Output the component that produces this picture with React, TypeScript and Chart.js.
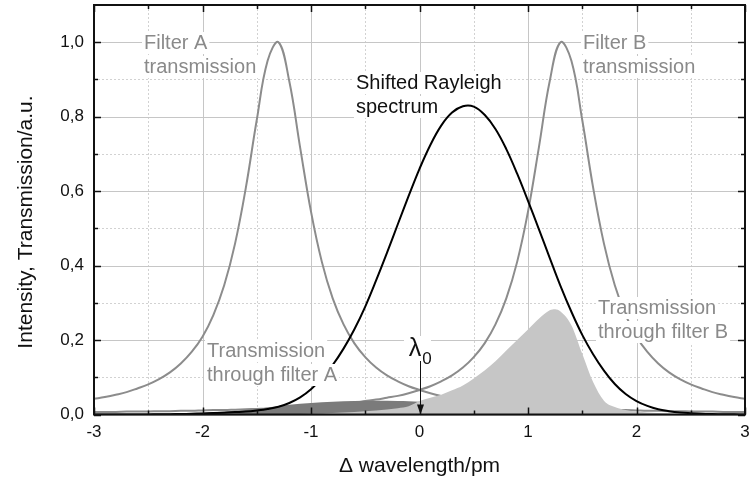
import React, { useEffect, useRef } from "react";
import { Chart, registerables } from "chart.js";

Chart.register(...registerables);

// ---------- data ----------
const xGrid = [
  -3.0, -2.9, -2.8, -2.7, -2.6, -2.5, -2.4, -2.3, -2.2, -2.1,
  -2.0, -1.9, -1.8, -1.7, -1.6, -1.5, -1.4, -1.3, -1.2, -1.1,
  -1.0, -0.9, -0.8, -0.7, -0.6, -0.5, -0.4, -0.3, -0.2, -0.1,
  0.0,
  0.1, 0.2, 0.3, 0.4, 0.5, 0.6, 0.7, 0.8, 0.9, 1.0,
  1.1, 1.2, 1.3, 1.4, 1.5, 1.6, 1.7, 1.8, 1.9, 2.0,
  2.1, 2.2, 2.3, 2.4, 2.5, 2.6, 2.7, 2.8, 2.9, 3.0,
];

const filterA = [
  0.042, 0.047, 0.053, 0.060, 0.070, 0.081, 0.095, 0.113, 0.137, 0.168,
  0.209, 0.267, 0.347, 0.459, 0.610, 0.791, 0.950, 1.0, 0.895, 0.717,
  0.545, 0.410, 0.312, 0.242, 0.191, 0.154, 0.126, 0.105, 0.089, 0.076,
  0.066,
  0.057, 0.050, 0.045, 0.040, 0.036, 0.032, 0.029, 0.027, 0.024, 0.022,
  0.021, 0.019, 0.018, 0.016, 0.015, 0.014, 0.013, 0.012, 0.012, 0.011,
  0.010, 0.010, 0.009, 0.009, 0.008, 0.008, 0.008, 0.007, 0.007, 0.007,
];

const filterB = [
  0.007, 0.007, 0.007, 0.008, 0.008, 0.008, 0.009, 0.009, 0.010, 0.010,
  0.011, 0.012, 0.012, 0.013, 0.014, 0.015, 0.016, 0.018, 0.019, 0.021,
  0.022, 0.024, 0.027, 0.029, 0.032, 0.036, 0.040, 0.045, 0.050, 0.057,
  0.066,
  0.076, 0.089, 0.105, 0.126, 0.154, 0.191, 0.242, 0.312, 0.410, 0.545,
  0.717, 0.895, 1.0, 0.950, 0.791, 0.610, 0.459, 0.347, 0.267, 0.209,
  0.168, 0.137, 0.113, 0.095, 0.081, 0.070, 0.060, 0.053, 0.047, 0.042,
];

const rayleigh = [
  0, 0, 0, 0.0001, 0.0002, 0.0003, 0.0005, 0.0008, 0.0013, 0.002,
  0.003, 0.004, 0.005, 0.0065, 0.008, 0.011, 0.015, 0.021, 0.031, 0.046,
  0.068, 0.097, 0.133, 0.177, 0.229, 0.290, 0.360, 0.434, 0.511, 0.587,
  0.660,
  0.724, 0.776, 0.811, 0.828, 0.827, 0.805, 0.767, 0.713, 0.647, 0.574,
  0.498, 0.421, 0.345, 0.276, 0.214, 0.162, 0.118, 0.082, 0.055, 0.036,
  0.023, 0.014, 0.009, 0.0055, 0.0035, 0.002, 0.0012, 0.0007, 0.0004, 0.0002,
];

const throughAX = [-2.6, -2.4, -2.2, -2.0, -1.8, -1.6, -1.4, -1.2, -1.0, -0.8, -0.6, -0.4, -0.2, 0.0, 0.1, 0.2];
const throughAY = [0.0, 0.001, 0.003, 0.005, 0.008, 0.012, 0.019, 0.026, 0.031, 0.034, 0.036, 0.037, 0.036, 0.034, 0.03, 0.02];

const throughBX = [
  -1.2, -1.0, -0.8, -0.6, -0.4, -0.2, -0.1, 0.0, 0.1, 0.2, 0.3, 0.4, 0.5, 0.6, 0.7, 0.8, 0.9, 1.0,
  1.1, 1.2, 1.25, 1.3, 1.4, 1.5, 1.6, 1.7, 1.8, 1.9, 2.0, 2.2, 2.5, 2.8,
];
const throughBY = [
  0.0, 0.002, 0.004, 0.007, 0.011, 0.017, 0.022, 0.036, 0.045, 0.053, 0.065, 0.078, 0.097, 0.118, 0.143, 0.172, 0.2, 0.228,
  0.257, 0.28, 0.283, 0.277, 0.24, 0.163, 0.087, 0.037, 0.02, 0.012, 0.008, 0.004, 0.001, 0.0,
];

const xTicks = [-3, -2, -1, 0, 1, 2, 3];
const yTicks = [0, 0.2, 0.4, 0.6, 0.8, 1.0];
const xMinor = [-2.5, -1.5, -0.5, 0.5, 1.5, 2.5];
const yMinor = [0.1, 0.3, 0.5, 0.7, 0.9];

const xTitle = "\u0394 wavelength/pm";
const yTitle = "Intensity, Transmission/a.u.";

const FONT = '"Liberation Sans", Arial, sans-serif';
const GREY_TEXT = "#8a8a8a";

const annotations = [
  { lines: ["Filter A", "transmission"], x: 144, y: 43, color: GREY_TEXT },
  { lines: ["Filter B", "transmission"], x: 583, y: 43, color: GREY_TEXT },
  { lines: ["Shifted Rayleigh", "spectrum"], x: 356, y: 83, color: "#111" },
  { lines: ["Transmission", "through filter A"], x: 207, y: 351, color: GREY_TEXT },
  { lines: ["Transmission", "through filter B"], x: 598, y: 308, color: GREY_TEXT },
];

const toPts = (xs: number[], ys: number[]) => xs.map((x, i) => ({ x, y: ys[i] }));

const decor = {
  id: "decor",
  beforeDatasetsDraw(chart: any) {
    const { ctx, chartArea: a, scales } = chart;
    const x = scales.x, y = scales.y;
    ctx.save();
    ctx.lineWidth = 1;
    ctx.setLineDash([2, 2]);
    ctx.strokeStyle = "#d2d2d2";
    for (const v of xMinor) {
      const px = Math.round(x.getPixelForValue(v)) + 0.5;
      ctx.beginPath(); ctx.moveTo(px, a.top); ctx.lineTo(px, a.bottom); ctx.stroke();
    }
    for (const v of yMinor) {
      const py = Math.round(y.getPixelForValue(v)) + 0.5;
      ctx.beginPath(); ctx.moveTo(a.left, py); ctx.lineTo(a.right, py); ctx.stroke();
    }
    ctx.setLineDash([]);
    ctx.strokeStyle = "#c6c6c6";
    for (const v of xTicks) {
      const px = Math.round(x.getPixelForValue(v)) + 0.5;
      ctx.beginPath(); ctx.moveTo(px, a.top); ctx.lineTo(px, a.bottom); ctx.stroke();
    }
    for (const v of yTicks) {
      const py = Math.round(y.getPixelForValue(v)) + 0.5;
      ctx.beginPath(); ctx.moveTo(a.left, py); ctx.lineTo(a.right, py); ctx.stroke();
    }
    ctx.restore();
  },
  afterDatasetsDraw(chart: any) {
    const { ctx, chartArea: a, scales } = chart;
    const x = scales.x, y = scales.y;
    ctx.save();
    // annotations with white background
    ctx.font = `20px ${FONT}`;
    ctx.textBaseline = "middle";
    ctx.textAlign = "left";
    for (const an of annotations) {
      an.lines.forEach((t, i) => {
        const w = ctx.measureText(t).width;
        const cy = an.y + i * 24;
        ctx.fillStyle = "#fff";
        ctx.fillRect(an.x - 2, cy - 11, w + 4, 22);
      });
      an.lines.forEach((t, i) => {
        ctx.fillStyle = an.color;
        ctx.fillText(t, an.x, an.y + i * 24);
      });
    }
    // lambda_0 marker
    const x0 = Math.round(x.getPixelForValue(0)) + 0.5;
    ctx.fillStyle = "#fff";
    ctx.fillRect(404, 336, 27, 25);
    ctx.fillStyle = "#111";
    ctx.font = `25px ${FONT}`;
    ctx.textAlign = "center";
    ctx.fillText("\u03bb", 415, 349);
    ctx.font = `17px ${FONT}`;
    ctx.fillText("0", 427, 359);
    ctx.strokeStyle = "#111";
    ctx.lineWidth = 1;
    ctx.beginPath(); ctx.moveTo(x0, 361); ctx.lineTo(x0, a.bottom - 6); ctx.stroke();
    ctx.beginPath();
    ctx.moveTo(x0, a.bottom);
    ctx.lineTo(x0 - 3.5, a.bottom - 10);
    ctx.lineTo(x0 + 3.5, a.bottom - 10);
    ctx.closePath();
    ctx.fill();
    // frame and ticks
    ctx.strokeStyle = "#111";
    ctx.lineWidth = 2;
    ctx.strokeRect(a.left, a.top, a.right - a.left, a.bottom - a.top);
    ctx.lineWidth = 1.5;
    const tick = (px: number, len: number) => {
      ctx.beginPath(); ctx.moveTo(px, a.bottom); ctx.lineTo(px, a.bottom - len); ctx.stroke();
      ctx.beginPath(); ctx.moveTo(px, a.top); ctx.lineTo(px, a.top + len); ctx.stroke();
    };
    const tickY = (py: number, len: number) => {
      ctx.beginPath(); ctx.moveTo(a.left, py); ctx.lineTo(a.left + len, py); ctx.stroke();
      ctx.beginPath(); ctx.moveTo(a.right, py); ctx.lineTo(a.right - len, py); ctx.stroke();
    };
    xTicks.forEach((v) => tick(Math.round(x.getPixelForValue(v)) + 0.5, 7));
    xMinor.forEach((v) => tick(Math.round(x.getPixelForValue(v)) + 0.5, 4));
    yTicks.forEach((v) => tickY(Math.round(y.getPixelForValue(v)) + 0.5, 7));
    yMinor.forEach((v) => tickY(Math.round(y.getPixelForValue(v)) + 0.5, 4));
    // axis titles
    ctx.fillStyle = "#111";
    ctx.font = `21px ${FONT}`;
    ctx.textAlign = "center";
    ctx.textBaseline = "middle";
    ctx.fillText(xTitle, (a.left + a.right) / 2, 466);
    ctx.translate(26, 222);
    ctx.rotate(-Math.PI / 2);
    ctx.fillText(yTitle, 0, 0);
    ctx.restore();
  },
};

export default function App() {
  const ref = useRef<HTMLCanvasElement | null>(null);
  useEffect(() => {
    if (!ref.current) return;
    const chart = new Chart(ref.current, {
      type: "line",
      data: {
        datasets: [
          {
            label: "Shifted Rayleigh spectrum",
            data: toPts(xGrid, rayleigh),
            borderColor: "#000",
            borderWidth: 2,
            pointRadius: 0,
            fill: false,
            tension: 0.4,
            order: 0,
          },
          {
            label: "Transmission through filter B",
            data: toPts(throughBX, throughBY),
            borderColor: "rgba(0,0,0,0)",
            borderWidth: 0,
            backgroundColor: "#c6c6c6",
            pointRadius: 0,
            fill: "origin",
            cubicInterpolationMode: "monotone",
            order: 1,
          },
          {
            label: "Transmission through filter A",
            data: toPts(throughAX, throughAY),
            borderColor: "rgba(0,0,0,0)",
            borderWidth: 0,
            backgroundColor: "#7b7b7b",
            pointRadius: 0,
            fill: "origin",
            cubicInterpolationMode: "monotone",
            order: 2,
          },
          {
            label: "Filter A transmission",
            data: toPts(xGrid, filterA),
            borderColor: "#8c8c8c",
            borderWidth: 2,
            pointRadius: 0,
            fill: false,
            tension: 0.4,
            order: 3,
          },
          {
            label: "Filter B transmission",
            data: toPts(xGrid, filterB),
            borderColor: "#8c8c8c",
            borderWidth: 2,
            pointRadius: 0,
            fill: false,
            tension: 0.4,
            order: 4,
          },
        ],
      },
      options: {
        animation: false,
        responsive: false,
        devicePixelRatio: 1,
        layout: { padding: { top: 5, right: 4, left: 0, bottom: 0 } },
        plugins: { legend: { display: false }, tooltip: { enabled: false } },
        scales: {
          x: {
            type: "linear",
            min: -3,
            max: 3,
            afterBuildTicks: (s: any) => { s.ticks = xTicks.map((v) => ({ value: v })); },
            afterFit: (s: any) => { s.height = 66.5; s.paddingLeft = 0; s.paddingRight = 0; },
            grid: { display: false, drawTicks: false },
            border: { display: false },
            ticks: {
              padding: 8,
              color: "#111",
              font: { family: FONT, size: 17 },
              callback: (v: any) => String(v),
            },
          },
          y: {
            type: "linear",
            min: 0,
            max: 1.1,
            afterBuildTicks: (s: any) => { s.ticks = yTicks.map((v) => ({ value: v })); },
            afterFit: (s: any) => { s.width = 94; s.paddingTop = 0; s.paddingBottom = 0; },
            grid: { display: false, drawTicks: false },
            border: { display: false },
            ticks: {
              padding: 10,
              color: "#111",
              font: { family: FONT, size: 17 },
              callback: (v: any) => Number(v).toFixed(1).replace(".", ","),
            },
          },
        },
      },
      plugins: [decor],
    } as any);
    return () => chart.destroy();
  }, []);
  return (
    <div style={{ position: "absolute", left: 0, top: 0, width: 749, height: 481, background: "#fff" }}>
      <canvas ref={ref} width={749} height={481} style={{ display: "block" }} />
    </div>
  );
}
